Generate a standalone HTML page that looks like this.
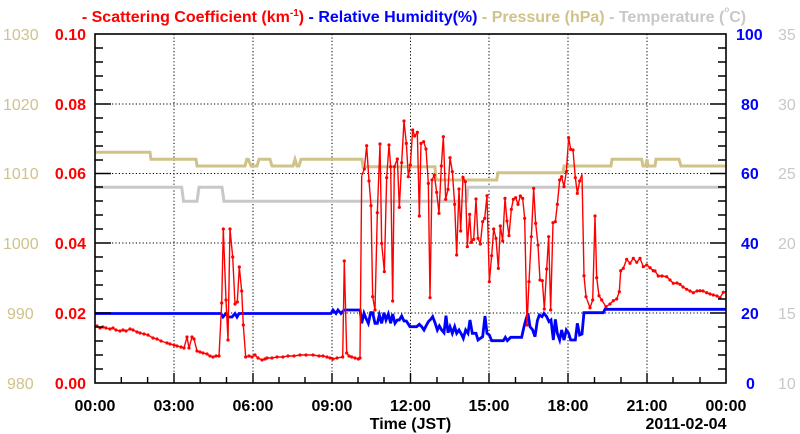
<!DOCTYPE html>
<html><head><meta charset="utf-8"><style>
html,body{margin:0;padding:0;background:#fff;}
svg{display:block;font-family:"Liberation Sans",Arial,sans-serif;}
</style></head><body>
<svg width="800" height="434" viewBox="0 0 800 434" xmlns="http://www.w3.org/2000/svg">
<defs>
<marker id="m1" markerUnits="userSpaceOnUse" markerWidth="4" markerHeight="4" refX="2" refY="2"><circle cx="2" cy="2" r="1.6" fill="#ff0000"/></marker>
<marker id="m3" markerUnits="userSpaceOnUse" markerWidth="12" markerHeight="12" refX="6" refY="6"><circle cx="6" cy="6" r="4.8" fill="#ff0000"/></marker>
</defs>
<rect width="800" height="434" fill="#fff"/>
<text x="414" y="22" text-anchor="middle" font-size="16" font-weight="bold"><tspan fill="#ff0000">- Scattering Coefficient (km</tspan><tspan fill="#ff0000" font-size="10" dy="-6">-1</tspan><tspan fill="#ff0000" dy="6">)</tspan><tspan fill="#0000ff"> - Relative Humidity(%)</tspan><tspan fill="#cfc38a"> - Pressure (hPa)</tspan><tspan fill="#c8c8c8"> - Temperature (</tspan><tspan fill="#c8c8c8" font-size="8" dy="-10">o</tspan><tspan fill="#c8c8c8" dy="10">C)</tspan></text>
<g stroke="#000" stroke-width="1" stroke-dasharray="1.2,2.2">
<line x1="174" y1="34" x2="174" y2="383"/><line x1="253" y1="34" x2="253" y2="383"/>
<line x1="332" y1="34" x2="332" y2="383"/><line x1="410.5" y1="34" x2="410.5" y2="383"/>
<line x1="489" y1="34" x2="489" y2="383"/><line x1="568" y1="34" x2="568" y2="383"/>
<line x1="647" y1="34" x2="647" y2="383"/>
<line x1="95" y1="104" x2="726" y2="104"/><line x1="95" y1="173.5" x2="726" y2="173.5"/>
<line x1="95" y1="243" x2="726" y2="243"/><line x1="95" y1="313" x2="726" y2="313"/>
</g>
<polyline fill="none" stroke="#cfc38a" stroke-width="3" points="95,152.3 150,152.3 151,159.3 196,159.3 197,166 245,166 246.7,159.3 248.3,159.3 251,166 257,166 259,159.3 270,159.3 272,166 293,166 295,159.3 297,166 299,166 301,159.3 362,159.3 363,166.7 435,166.7 436,180 496.7,180 498,172.7 563,172.7 564,166 611,166 612,159.3 641.7,159.3 643,166 645.7,166 647,159.3 648,166 655,166 656,159.3 679,159.3 681,166 726,166"/>
<polyline fill="none" stroke="#c8c8c8" stroke-width="3" points="95,187.3 181.7,187.3 183.5,201.3 197,201.3 199,187.3 222,187.3 224,201.3 466.7,201.3 468,187.3 726,187.3"/>
<polyline fill="none" stroke="#0000ff" stroke-width="2.8" points="95,313.5 221,313.5 223,317 226,313.5 228,317 232,317 235,313.5 237,317 239,313.5 331,313.5 333,310 336,313.5 338,310 341,313.5 344,310 358,310 360,310"/>
<g transform="translate(340,110) scale(0.33333)">
<polyline fill="none" stroke="#0000ff" stroke-width="2.8" vector-effect="non-scaling-stroke" points="60,597 65,640 72,610 78,625 85,640 92,608 98,608 105,640 112,640 118,615 125,640 132,608 138,630 145,612 152,640 158,612 165,640 172,630 178,630 185,618 192,633 199,633 210,650 230,650 238,643 245,650 252,660 258,648 265,635 272,628 278,620 285,638 292,660 298,648 305,660 312,668 318,617 324,668 330,650 337,670 344,650 350,670 357,660 364,672 370,685 377,660 384,670 390,630 397,670 408,670 414,690 428,680 435,618 441,670 448,675 455,692 490,692 496,682 502,692 512,682 545,682 552,650 558,628 564,610 570,650 578,660 585,680 592,632 598,615 606,620 612,610 620,620 627,635 633,630 640,690 646,628 652,670 659,690 665,660 672,690 679,660 686,670 692,690 706,690 712,640 719,675 726,672 732,608 790,608 795,598 810,598"/>
</g>
<line x1="610" y1="309.3" x2="726" y2="309.3" stroke="#0000ff" stroke-width="2.8"/>
<polyline fill="none" stroke="#ff0000" stroke-width="1.4" marker-mid="url(#m1)" points="95,327 97,326 100,328 103,327 106,328 110,329 113,328 116,330 120,331 123,330 126,331 130,329 133,330 137,332 140,333 144,334 148,335 153,338 157,339 161,341 167,343 170,344 174,345 177,346 181,347 184,348 187,337 189,348 192,337 194,339 197,351 200,352 203,353 207,354 210,356 213,357 216,356 219,356 221.7,303 223.3,229 226,300 228,340 230,229 232.7,257 235,304 237.3,302 239.3,267 241.7,291 243.3,325 245.7,357 249,356 252,357 255,355 258,358 262,360 265,359 267,358 272,358 277,357 283,357 288,356 294,356 300,355 306,355 313,355 319,356 323,356 327,357 330,358 333,359 337,358 342.7,357 344.3,261 346.7,353 349,356 351.7,357 355,358 358.3,359 360,358 361.7,175.7"/>
<g transform="translate(340,110) scale(0.33333)">
<polyline fill="none" stroke="#ff0000" stroke-width="1.4" vector-effect="non-scaling-stroke" marker-mid="url(#m3)" points="65,197 73,177 80,107 87,213 93,287 98,560 105,600 112,308 120,102 125,400 133,485 140,203 147,105 152,170 158,573 163,170 172,147 178,292 185,158 192,33 199,100 205,200 211,165 218,60 224,78 232,67 238,318 243,100 251,95 258,117 265,220 270,563 276,210 283,195 290,247 297,310 304,168 310,80 317,268 324,238 330,143 337,185 344,283 350,435 357,237 362,363 369,202 376,215 382,410 389,313 394,397 401,388 408,267 414,385 421,402 428,335 434,325 441,257 448,515 455,437 461,357 468,385 475,475 481,348 488,393 495,265 501,333 507,377 514,298 520,268 527,263 534,283 541,258 548,265 554,325 561,645 567,515 574,380 581,235 587,340 594,405 600,510 607,512 613,597 620,477 626,380 632,600 639,338 646,335 652,283 659,210 665,200 672,230 679,185 686,83 692,118 699,120 706,203 712,250 719,213 726,193"/>
</g>
<polyline fill="none" stroke="#ff0000" stroke-width="1.4" marker-mid="url(#m1)" points="582,174.3 584,275.7 586,296.7 590,307.7 592.7,300 595,216 596.7,277.7 599,295.7 601.7,300 606,306.7 610,304 613.3,300.7 616.7,299 619.3,291.7 620.7,270.7 623.3,268.3 626.7,259.3 630,263.3 633.3,258.3 636.7,262.3 640,258.3 643.3,266.7 646.7,265 650,267.7 653.3,270.7 655,271 658.3,276 662,276 666.7,276.7 670,280 673.3,283.3 677,283 680,284.3 683,287 686.7,289.3 690,291 693.3,292.7 697,291 700,290.7 703,291 706.7,292.7 710,294 713.3,295 717,296 720,297.7 723.3,292.3 726,291.7"/>
<rect x="95" y="34" width="631" height="349" fill="none" stroke="#000" stroke-width="1.6"/>
<g stroke="#000" stroke-width="1.4">
<path d="M95,48H103M95,62H103M95,76H103M95,90H103M95,118H103M95,132H103M95,146H103M95,160H103M95,187H103M95,201H103M95,215H103M95,229H103M95,257H103M95,271H103M95,285H103M95,299H103M95,327H103M95,341H103M95,355H103M95,369H103"/>
<path d="M95,104H111M95,173.5H111M95,243H111M95,313H111"/>
<path d="M726,48H718M726,62H718M726,76H718M726,90H718M726,118H718M726,132H718M726,146H718M726,160H718M726,187H718M726,201H718M726,215H718M726,229H718M726,257H718M726,271H718M726,285H718M726,299H718M726,327H718M726,341H718M726,355H718M726,369H718"/>
<path d="M726,104H710M726,173.5H710M726,243H710M726,313H710"/>
<path d="M121.3,383V377M147.6,383V377M200.2,383V377M226.5,383V377M279,383V377M305,383V377M358,383V377M384,383V377M437,383V377M463,383V377M515.5,383V377M542,383V377M594.5,383V377M621,383V377M673,383V377M700,383V377"/>
<path d="M174,383V373M253,383V373M332,383V373M410.5,383V373M489,383V373M568,383V373M647,383V373"/>
</g>
<g font-size="16" font-weight="bold" fill="#ff0000" text-anchor="end">
<text x="86" y="40">0.10</text><text x="86" y="110">0.08</text><text x="86" y="179">0.06</text><text x="86" y="249">0.04</text><text x="86" y="319">0.02</text><text x="86" y="389">0.00</text>
</g>
<g font-size="16" fill="#cfc38a" text-anchor="start">
<text x="3" y="40">1030</text><text x="3" y="110">1020</text><text x="3" y="179">1010</text><text x="3" y="249">1000</text><text x="7" y="319">990</text><text x="7" y="389">980</text>
</g>
<g font-size="16" font-weight="bold" fill="#0000ff" text-anchor="start">
<text x="736" y="40">100</text><text x="741" y="110">80</text><text x="741" y="179">60</text><text x="741" y="249">40</text><text x="741" y="319">20</text><text x="746" y="389">0</text>
</g>
<g font-size="16" fill="#c8c8c8" text-anchor="start">
<text x="778" y="40">35</text><text x="778" y="110">30</text><text x="778" y="179">25</text><text x="778" y="249">20</text><text x="778" y="319">15</text><text x="778" y="389">10</text>
</g>
<g font-size="16" font-weight="bold" fill="#000" text-anchor="middle">
<text x="95" y="411">00:00</text><text x="174" y="411">03:00</text><text x="253" y="411">06:00</text><text x="332" y="411">09:00</text><text x="410.5" y="411">12:00</text><text x="489" y="411">15:00</text><text x="568" y="411">18:00</text><text x="647" y="411">21:00</text><text x="726" y="411">00:00</text>
<text x="410.5" y="429">Time (JST)</text>
<text x="686" y="429">2011-02-04</text>
</g>
</svg>
</body></html>
